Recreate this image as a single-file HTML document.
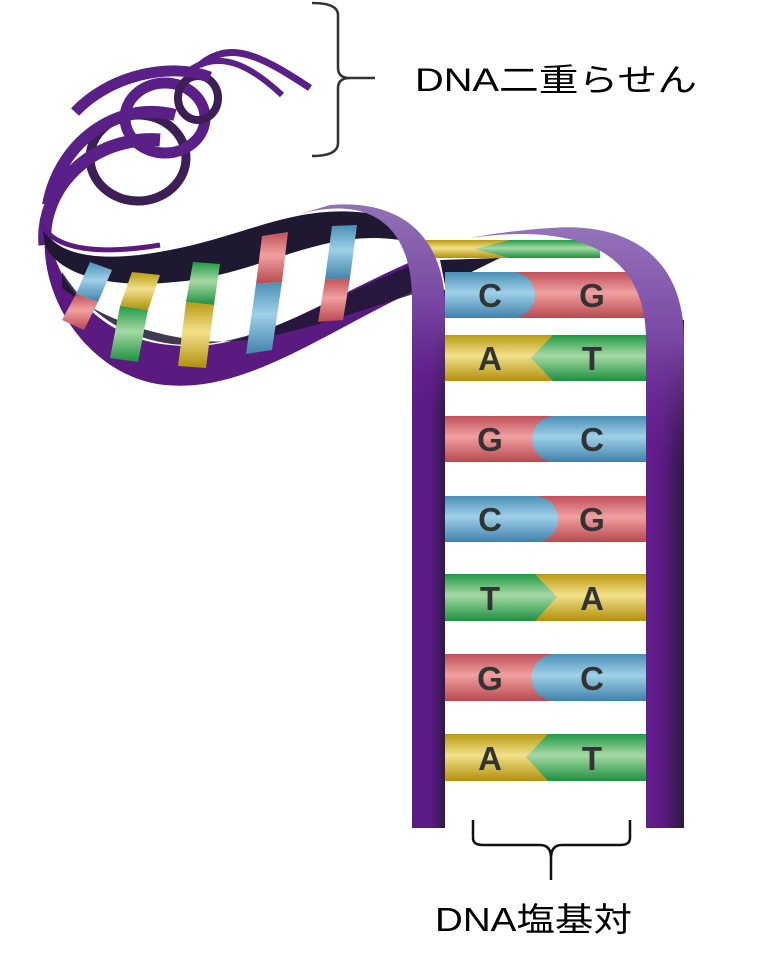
<!DOCTYPE html>
<html><head><meta charset="utf-8"><style>html,body{margin:0;padding:0;background:#fff}svg{display:block}</style></head>
<body>
<svg width="770" height="969" viewBox="0 0 770 969" xmlns="http://www.w3.org/2000/svg">
<defs>
<linearGradient id="bl" x1="0" y1="0" x2="0" y2="1"><stop offset="0" stop-color="#4a8fb5"/><stop offset=".45" stop-color="#9fd0e8"/><stop offset="1" stop-color="#3f82aa"/></linearGradient>
<linearGradient id="rd" x1="0" y1="0" x2="0" y2="1"><stop offset="0" stop-color="#c0505a"/><stop offset=".45" stop-color="#f0a0a0"/><stop offset="1" stop-color="#b84850"/></linearGradient>
<linearGradient id="yl" x1="0" y1="0" x2="0" y2="1"><stop offset="0" stop-color="#b89a10"/><stop offset=".45" stop-color="#f3e08a"/><stop offset="1" stop-color="#b0900c"/></linearGradient>
<linearGradient id="gr" x1="0" y1="0" x2="0" y2="1"><stop offset="0" stop-color="#1f9a45"/><stop offset=".45" stop-color="#a6d9a5"/><stop offset="1" stop-color="#1c9040"/></linearGradient>
<linearGradient id="bbL" gradientUnits="userSpaceOnUse" x1="412" y1="0" x2="445" y2="0"><stop offset="0" stop-color="#5e1a88"/><stop offset=".6" stop-color="#5a1a82"/><stop offset="1" stop-color="#2e1a48"/></linearGradient>
<linearGradient id="bbR" gradientUnits="userSpaceOnUse" x1="646" y1="0" x2="684" y2="0"><stop offset="0" stop-color="#651d90"/><stop offset=".45" stop-color="#5a1a82"/><stop offset="1" stop-color="#2a1a3e"/></linearGradient>
<linearGradient id="archL" gradientUnits="userSpaceOnUse" x1="0" y1="210" x2="0" y2="420"><stop offset="0" stop-color="#9070b5"/><stop offset=".5" stop-color="#7440a0"/><stop offset="1" stop-color="#5e1a88" stop-opacity="0"/></linearGradient>
<linearGradient id="archR" gradientUnits="userSpaceOnUse" x1="0" y1="230" x2="0" y2="470"><stop offset="0" stop-color="#9372b8"/><stop offset=".45" stop-color="#7a48a5"/><stop offset="1" stop-color="#651d90" stop-opacity="0"/></linearGradient>
</defs>

<!-- helix spirals -->
<g fill="none" stroke="#5b1f88" stroke-width="11">
<ellipse cx="138" cy="158" rx="48" ry="43" stroke="#3c1f55" stroke-width="9"/>
<ellipse cx="165" cy="118" rx="40" ry="35"/>
<ellipse cx="198" cy="98" rx="20" ry="22" stroke="#3c1f55" stroke-width="8"/>
<path d="M75,112 C110,75 170,62 210,77"/>
<path d="M48,205 C60,140 120,100 175,115" stroke-width="12"/>
<path d="M45,245 C40,190 90,135 160,140" stroke-width="13"/>
<path d="M200,65 C230,40 260,55 310,88" stroke-width="7"/>
<path d="M190,70 C220,50 250,65 282,95" stroke-width="6"/>
</g>

<!-- lower helix body -->
<path d="M45,235 C40,305 95,378 165,385 C245,393 320,335 420,288 L420,258 C320,300 250,355 170,345 C110,340 75,300 60,270 Z" fill="#5a1a80"/>
<path d="M62,272 C82,302 112,336 172,344 C252,352 322,300 420,262 L420,292 C322,322 252,352 182,338 C122,328 82,304 62,288Z" fill="#1e1830" opacity=".85"/>
<path d="M42,225 C55,260 110,262 170,250 C250,235 300,200 380,215 L400,240 C320,228 260,275 175,282 C100,290 55,270 45,245 Z" fill="#1e1830"/>
<path d="M42,225 C55,250 100,255 160,245" stroke="#5a1a80" stroke-width="5" fill="none"/>

<!-- tilted bases in helix -->
<g>
<polygon points="90,262 112,270 98,302 76,294" fill="url(#bl)"/><polygon points="76,294 98,302 84,330 62,320" fill="url(#rd)"/>
<polygon points="132,272 160,275 148,310 120,306" fill="url(#yl)"/><polygon points="120,306 148,310 138,362 110,358" fill="url(#gr)"/>
<polygon points="193,262 220,264 214,305 186,302" fill="url(#gr)"/><polygon points="186,302 214,305 206,368 178,366" fill="url(#yl)"/>
<polygon points="262,236 288,232 282,282 256,284" fill="url(#rd)"/><polygon points="256,284 282,282 272,350 246,354" fill="url(#bl)"/>
<polygon points="332,226 357,225 350,278 325,280" fill="url(#bl)"/><polygon points="325,280 350,278 343,320 318,322" fill="url(#rd)"/>
</g>

<!-- top partial rung -->
<rect x="425" y="240" width="90" height="18" fill="url(#yl)"/>
<polygon points="475,249 510,240 600,240 600,258 510,258" fill="url(#gr)"/>
<polygon points="440,260 500,258 445,285" fill="#1e1830"/>

<!-- rungs -->
<g font-family="Liberation Sans, Arial, sans-serif" font-weight="bold" font-size="33" fill="#333" text-anchor="middle">
<rect x="445" y="272" width="201" height="46" fill="url(#rd)"/>
<path d="M445,272 H512 A23,23 0 0 1 512,318 H445Z" fill="url(#bl)"/>
<text x="490" y="307">C</text><text x="592" y="307">G</text>
<rect x="445" y="335" width="201" height="46" fill="url(#yl)"/>
<polygon points="553,335 646,335 646,381 553,381 531,358" fill="url(#gr)"/>
<text x="490" y="370">A</text><text x="592" y="370">T</text>
<rect x="445" y="416" width="201" height="46" fill="url(#rd)"/>
<path d="M646,416 H555 A23,23 0 0 0 555,462 H646Z" fill="url(#bl)"/>
<text x="490" y="451">G</text><text x="592" y="451">C</text>
<rect x="445" y="496" width="201" height="46" fill="url(#rd)"/>
<path d="M445,496 H535 A23,23 0 0 1 535,542 H445Z" fill="url(#bl)"/>
<text x="490" y="531">C</text><text x="592" y="531">G</text>
<rect x="445" y="574" width="201" height="47" fill="url(#yl)"/>
<polygon points="445,574 535,574 557,597 535,621 445,621" fill="url(#gr)"/>
<text x="490" y="610">T</text><text x="592" y="610">A</text>
<rect x="445" y="654" width="201" height="47" fill="url(#rd)"/>
<path d="M646,654 H555 A23.5,23.5 0 0 0 555,701 H646Z" fill="url(#bl)"/>
<text x="490" y="690">G</text><text x="592" y="690">C</text>
<rect x="445" y="734" width="201" height="47" fill="url(#yl)"/>
<polygon points="548,734 646,734 646,781 548,781 526,757" fill="url(#gr)"/>
<text x="490" y="770">A</text><text x="592" y="770">T</text>
</g>

<!-- backbones -->
<rect x="412" y="290" width="33" height="538" fill="url(#bbL)"/>
<rect x="646" y="320" width="38" height="508" fill="url(#bbR)"/>
<path d="M300,214 C370,195 412,225 412,300 L412,420 L445,420 L445,300 C440,225 390,200 330,205 Z" fill="url(#archL)"/>
<path d="M470,238 C560,225 646,240 646,340 L646,470 L684,470 L684,340 C684,250 620,222 550,228 C520,230 490,234 470,238 Z" fill="url(#archR)"/>

<!-- top bracket -->
<path d="M312,3 Q338,3 338,15 V68 Q338,78 350,78 H375 M350,78 Q338,78 338,88 V143 Q338,156 312,156" fill="none" stroke="#333" stroke-width="2.5"/>
<text x="415" y="91" font-family="Liberation Sans, 'Noto Sans CJK JP', sans-serif" font-size="32" fill="#000" textLength="282" lengthAdjust="spacingAndGlyphs">DNA二重らせん</text>

<!-- bottom bracket -->
<path d="M473,820 V838 Q473,845 483,845 H540 Q551,845 551,858 V880 M551,858 Q551,845 562,845 H620 Q630,845 630,838 V820" fill="none" stroke="#111" stroke-width="2.5"/>
<text x="435" y="931" font-family="Liberation Sans, 'Noto Sans CJK JP', sans-serif" font-size="33" fill="#000" textLength="197" lengthAdjust="spacingAndGlyphs">DNA塩基対</text>
</svg>
</body></html>
